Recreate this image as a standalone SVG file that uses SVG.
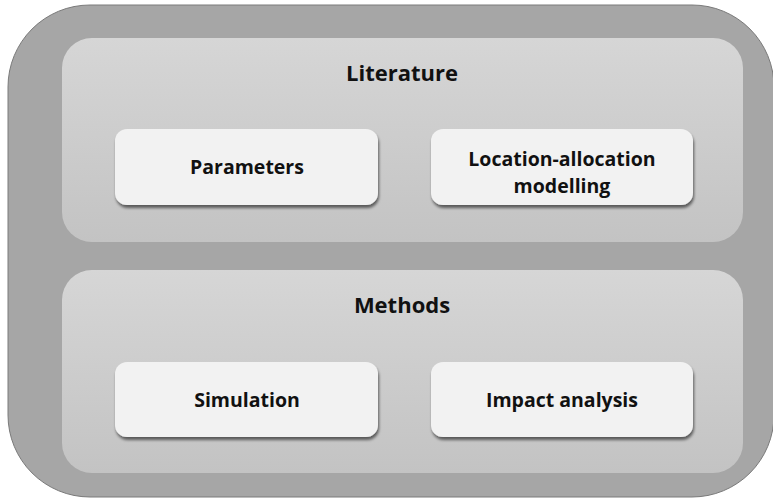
<svg xmlns="http://www.w3.org/2000/svg" width="773" height="500" viewBox="0 0 773 500">
<defs>
<linearGradient id="panel" x1="0" y1="0" x2="0" y2="1">
<stop offset="0" stop-color="#d6d6d6"/>
<stop offset="1" stop-color="#c3c3c3"/>
</linearGradient>
<filter id="sh" x="-10%" y="-20%" width="120%" height="150%">
<feGaussianBlur in="SourceAlpha" stdDeviation="1.5"/>
<feOffset dx="1" dy="2.5" result="b"/>
<feComponentTransfer><feFuncA type="linear" slope="0.55"/></feComponentTransfer>
<feMerge><feMergeNode/><feMergeNode in="SourceGraphic"/></feMerge>
</filter>
</defs>
<style>
.outer{fill:#a6a6a6;stroke:#7a7a7a;stroke-width:1}
.panel{fill:url(#panel)}
.box{fill:#f2f2f2;filter:url(#sh)}
text{font-family:"Open Sans","Liberation Sans",sans-serif;font-weight:bold;fill:#111;text-anchor:middle}
.t{font-size:22px}
.l{font-size:19.5px}
</style>
<rect class="outer" x="8" y="5" width="766" height="492" rx="82" ry="82"/>
<g id="literature">
<rect class="panel" x="62" y="38" width="681" height="204" rx="30" ry="30"/>
<text class="t" x="402" y="81">Literature</text>
</g>
<g id="methods">
<rect class="panel" x="62" y="270" width="681" height="203" rx="30" ry="30"/>
<text class="t" x="402" y="313">Methods</text>
</g>
<g id="parameters">
<rect class="box" x="115" y="129" width="263" height="76" rx="12" ry="12"/>
<text class="l" x="247" y="174">Parameters</text>
</g>
<g id="location-allocation">
<rect class="box" x="431" y="129" width="262" height="76" rx="12" ry="12"/>
<text class="l" x="562" y="166">Location-allocation</text>
<text class="l" x="562" y="193">modelling</text>
</g>
<g id="simulation">
<rect class="box" x="115" y="362" width="263" height="75" rx="12" ry="12"/>
<text class="l" x="247" y="407">Simulation</text>
</g>
<g id="impact">
<rect class="box" x="431" y="362" width="262" height="75" rx="12" ry="12"/>
<text class="l" x="562" y="407">Impact analysis</text>
</g>
<g id="connectors"></g>
</svg>
